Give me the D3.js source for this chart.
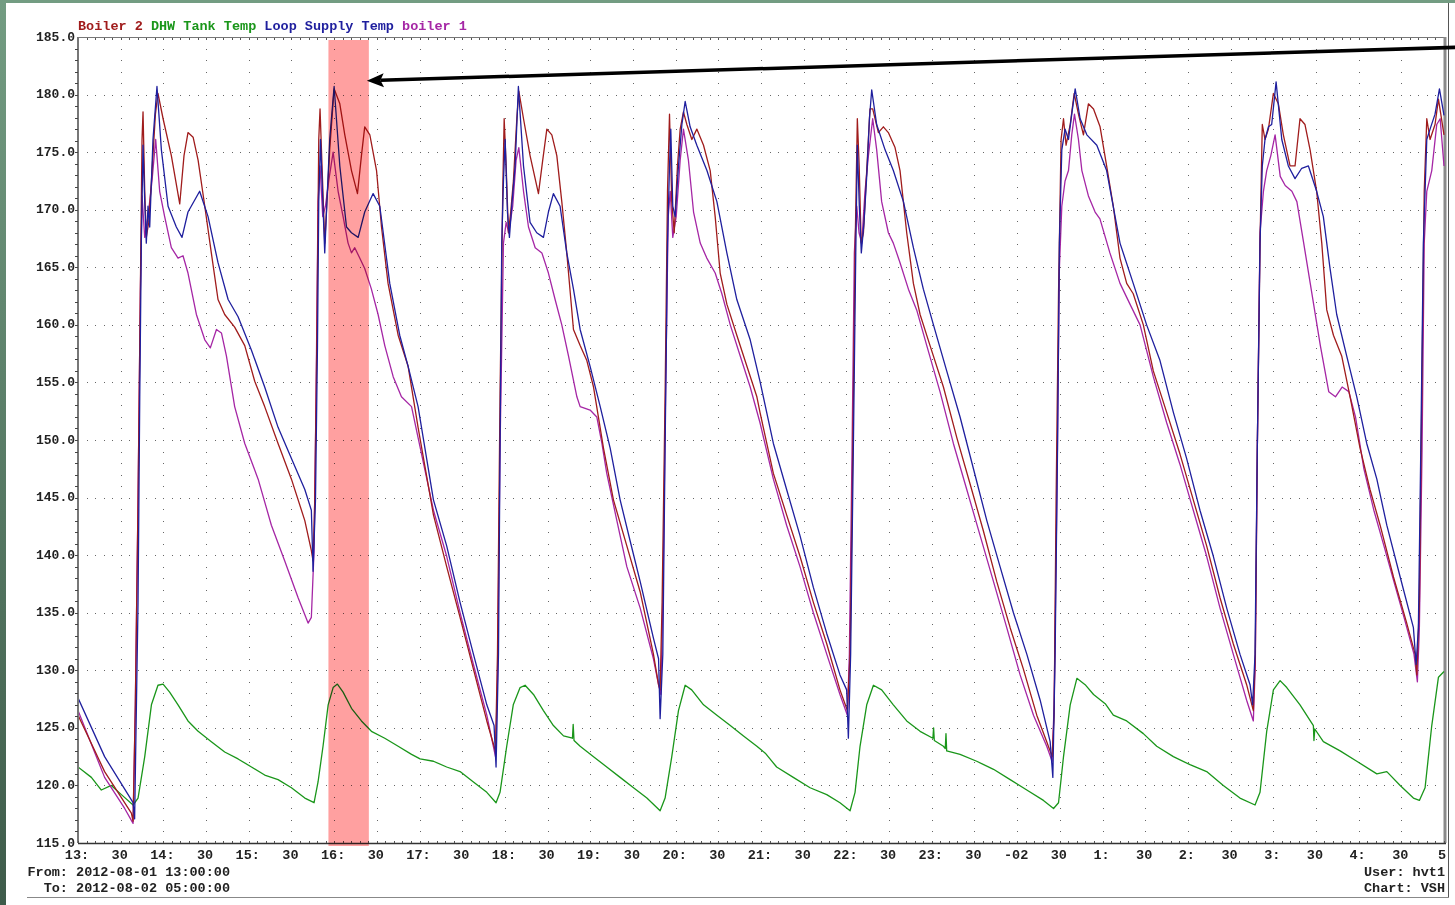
<!DOCTYPE html>
<html><head><meta charset="utf-8">
<script src="https://cdn.jsdelivr.net/npm/d3@7"></script>
<style>
html,body{margin:0;padding:0;background:#fff;}
svg{display:block;}
text{font-family:"Liberation Mono","DejaVu Sans Mono",monospace;font-weight:bold;}
</style></head><body>
<svg id="c" width="1455" height="905"></svg>
<script>
// minutes since 2012-08-01 13:00, temperature (F)
const loopSupply = [[0,127.6],[18.7,122.5],[38.7,118.5],[39.8,117.1],[42.2,135.9],[43.4,153.75],[44.5,167.1],[45.7,175.6],[46.9,170.7],[48,167.1],[49.2,170.3],[50.4,168.5],[52.7,176.1],[55.5,180.7],[58.6,175.2],[63.3,170.3],[69.1,168.5],[73.1,167.6],[77.3,169.8],[85.5,171.6],[91.4,169.4],[98.4,165.4],[105.5,162.2],[112.5,160.7],[121.9,157.8],[131.2,154.6],[140.6,151.1],[150,148.4],[159.4,145.7],[164,143.9],[165.2,138.6],[166.9,144.8],[168.3,158.2],[169.2,170.7],[170.4,176.1],[171.8,171.6],[173.4,166.25],[174.8,170.3],[176.9,176.1],[180,180.7],[184,173.8],[188.7,168.5],[192.2,168],[196.9,167.6],[201.5,169.8],[207.4,171.4],[212.1,170.3],[219.1,163.6],[226.1,159.1],[232,156.4],[239,152.9],[249.8,144.8],[259.1,140.8],[268.5,135.9],[277.9,131.4],[287.3,127],[292.4,125.2],[293.8,121.6],[295.5,131.4],[296.6,149.3],[297.8,167.1],[299,172.5],[300.2,176.1],[301.8,169.8],[303.2,167.6],[304.8,170.3],[307.2,173.8],[309.5,180.7],[313.1,173.8],[317.7,168.9],[322.4,168],[327.1,167.6],[330.6,169.8],[334.1,171.4],[338.8,170.3],[343.5,166.25],[348.2,163.1],[352.9,159.6],[359.9,156.4],[367,152.9],[374,149.3],[381,144.8],[388,141.25],[395.1,137.7],[404.4,132.8],[408,131],[409.1,125.8],[411,131.4],[412.6,149.3],[414.3,167.1],[415.7,173.8],[416.6,177],[418,170.3],[419.7,169.4],[422,173.8],[424.4,177.4],[426.7,179.4],[430.2,177.2],[434.9,175.6],[442,173.4],[449,170.7],[456,166.25],[463,162.2],[472.4,158.7],[479.3,155.1],[488.7,149.7],[498,145.7],[507.4,141.7],[516.8,137.2],[526.2,133.2],[535.5,129.6],[540.2,128.3],[541.4,124.1],[543,131.4],[544.9,149.3],[546.6,166.25],[547.7,175.6],[549.1,170.3],[550.5,166.25],[552.4,168.9],[554.3,172.9],[556.2,177.9],[557.8,180.4],[561.3,177.4],[567.2,175.2],[573,173.4],[580.1,170.7],[587.1,166.7],[594.1,163.1],[601.2,160],[610.5,156],[619.9,152],[629.3,147.5],[638.7,143],[648,139],[657.4,135],[666.8,131.4],[676.2,127.4],[683.2,123.8],[685.1,120.7],[686.7,131.4],[688.4,149.3],[689.7,167.1],[691.4,175.2],[693.7,177],[696.1,176.1],[698.4,178.3],[700.8,180.5],[704.3,177.9],[709,176.5],[716,175.6],[722.9,173.4],[732.3,167.1],[741.6,163.6],[751,160],[760.4,156.9],[769.8,152.4],[779.1,148.4],[788.5,143.9],[797.9,139.9],[807.3,135.4],[816.6,131.4],[823.7,128.75],[825.5,127],[827.2,131.4],[828.8,149.3],[830.7,167.1],[832.3,173.8],[834.2,176.1],[836.6,177.2],[838.9,177.4],[842,181.1],[846,176.1],[850.6,173.8],[855.3,172.7],[860,173.6],[864.7,173.8],[870.5,171.6],[875.2,169.4],[879.9,164.9],[884.6,160.9],[891.6,157.3],[898.7,153.75],[905.7,149.7],[912.8,146.6],[919.8,142.6],[929.2,138.1],[938.5,133.7],[940.4,130.5],[942,133.7],[943.7,149.3],[945.5,167.1],[947.9,176.1],[950.2,177],[953.7,178.3],[956.8,180.5],[960,178.2]];

const boiler2 = [[0,126.1],[18.7,121.2],[37.5,117.6],[38.7,116.9],[40.3,127],[42.2,144.8],[43.8,162.7],[45,176.1],[45.7,178.5],[46.9,171.6],[48,167.6],[49.7,168.9],[51.6,172.5],[54.4,178.3],[56.2,180.1],[59.8,177.9],[65.6,174.7],[71.5,170.5],[74.5,174.7],[77.3,176.7],[80.9,176.3],[84.4,174.3],[89.1,170.3],[93.7,166.25],[98.4,162.2],[103.1,160.9],[110.1,159.8],[117.2,158.2],[124.2,155.1],[131.2,152.9],[140.6,149.7],[150,146.6],[159.4,143],[164,140.4],[165.2,139.5],[166.4,144.8],[167.8,158.2],[169.2,176.1],[170.1,178.75],[171.5,173.8],[173.4,167.1],[174.8,170.3],[176.9,175.2],[180,180.5],[184,179.2],[187.5,176.5],[192.2,173.4],[196.4,171.4],[199.2,174.7],[201.5,177.2],[205.1,176.5],[209.8,173.4],[213.3,168.5],[217.9,163.6],[225,159.1],[232,156.4],[239,151.1],[249.8,143.5],[259.1,139],[268.5,134.6],[277.9,130.1],[287.3,125.6],[292.4,123.4],[293.4,122.9],[294.8,131.4],[296.6,153.75],[298.5,171.6],[299.5,177.9],[300.9,173.8],[302.5,168],[304.1,169.8],[306,172.5],[308.4,177.9],[309.8,180.3],[313.1,177.9],[317.7,174.7],[323.6,171.4],[326.6,174.3],[329.5,177],[333,176.5],[336.5,174.7],[340,170.7],[343.5,166.25],[348.2,159.6],[352.9,158.2],[357.6,156.9],[362.3,154.6],[369.3,149.3],[376.3,144.8],[385.7,140.8],[395.1,136.8],[404.4,131.4],[408,128.75],[409.1,128.3],[410.5,135.9],[412.6,153.75],[414.3,171.6],[415.7,178.3],[417.3,170.7],[419,168],[421.3,173.8],[423.2,177],[425.5,178.5],[427.9,177.4],[431.4,176.1],[434.9,177],[439.6,175.6],[444.3,173.4],[447.8,169.4],[451.3,164.5],[456,161.8],[463,159.1],[470.1,156.4],[477.1,153.75],[479.3,152.4],[488.7,147.1],[498,143.5],[507.4,139.9],[516.8,135.9],[526.2,132.3],[535.5,128.3],[540.7,126.5],[542.6,131.4],[544.5,149.3],[546.2,167.1],[547.7,177.9],[549,173.8],[550.4,167.1],[552,168],[554.3,173.4],[556.6,178.75],[558.5,178.75],[562.5,176.7],[566,177.2],[569.5,176.7],[574.2,175.4],[577.7,173.4],[582.4,168],[587.1,163.6],[591.8,160.9],[598.8,158.2],[608.2,154.6],[617.6,150.2],[626.9,146.2],[636.3,142.1],[645.7,137.7],[655.1,133.7],[664.4,130.1],[673.8,126.1],[680.8,123.8],[684.6,122.5],[686,126.1],[687.4,144.8],[689.1,162.7],[690.9,176.1],[692.6,177.9],[694.4,175.6],[697.3,177.4],[700.1,180.1],[703.1,178.3],[706.6,176.5],[710.1,179.2],[713.7,178.75],[718.3,177.2],[722.9,173.8],[727.6,170.3],[732.3,165.8],[737,163.6],[741.6,162.7],[748.7,160],[755.7,156],[765.1,152.4],[774.4,148.8],[783.8,144.8],[793.2,140.8],[802.6,136.3],[811.9,132.3],[821.3,128.75],[826,126.5],[827.4,131.4],[828.8,149.3],[830.7,167.1],[832.3,177.4],[834.2,176.1],[836.6,177],[840.1,180.1],[843.6,179.2],[847.1,176.5],[851.8,173.8],[855.3,173.8],[858.8,177.9],[862.3,177.4],[865.9,175.2],[870.5,171.6],[874.1,167.1],[877.6,161.3],[882.3,159.1],[888.1,157.3],[894,153.75],[901,149.3],[908,145.7],[915.1,142.6],[924.5,138.1],[933.8,134.1],[939.7,131.4],[940.9,129.6],[942.7,135.9],[944.4,153.75],[946.1,171.6],[947.9,177.9],[950.2,176.1],[953.7,177.4],[956.1,179.6],[960,176.5]];

const boiler1 = [[0,126.5],[18.7,120.7],[32.8,118],[38.7,116.7],[40.3,127],[42.2,144.8],[43.8,162.7],[45,171.2],[46.9,167.6],[49.2,169.4],[52,172.5],[54.6,176.1],[57.4,171.6],[60.9,169.4],[65.6,166.7],[70.3,165.8],[73.8,166],[77.3,164.5],[83.2,160.9],[89.1,158.7],[93,158],[97.3,159.6],[100.8,159.3],[104.3,157.3],[110.1,152.9],[117.2,149.7],[126.6,146.6],[135.9,142.6],[145.3,139.5],[154.7,136.3],[161.7,134.1],[164,134.6],[165.9,140.4],[167.3,153.75],[168.7,170.7],[170.1,173.8],[172,169.4],[173.9,170.3],[176.2,172.5],[179.3,175],[182.8,171.6],[186.3,169.4],[189.8,167.1],[192.2,166.25],[194.5,166.7],[198,165.8],[201.5,164.9],[206.2,163.1],[210.9,160.9],[215.6,158.2],[221.5,155.5],[227.3,153.75],[234.4,152.9],[239,150.2],[249.8,143.9],[259.1,139.9],[268.5,135],[277.9,130.5],[287.3,126.1],[291.9,123.4],[293.4,122.5],[294.8,129.2],[296.6,149.3],[299,167.1],[300.9,168.9],[302.7,168],[305.5,170.3],[307.9,174.3],[309.8,175.4],[313.1,171.6],[316.6,168.5],[321.3,166.7],[326,166.25],[330.6,164.5],[335.3,162.2],[340,160],[344.7,157.3],[350.6,153.75],[352.9,152.9],[359.9,152.6],[364.6,152],[368.2,149.7],[371.6,147.1],[378.7,143],[385.7,139],[395.1,135.4],[404.4,131],[408,128.75],[409.6,127.9],[411,135.9],[412.9,153.75],[414.8,169.4],[416.2,171.6],[418,167.6],[420.4,169.4],[423.2,174.3],[425.5,177],[429,174.3],[432.6,169.8],[437.3,167.1],[441.9,165.8],[447.8,164.5],[452.5,162.7],[458.4,160],[465.4,157.3],[472.4,154.6],[479.3,151.5],[488.7,146.6],[498,142.6],[507.4,139],[516.8,135],[526.2,131.4],[535.5,127.9],[540.7,126.1],[542.1,131.4],[544,149.3],[545.6,166.25],[547.3,170.3],[548.9,168],[550.8,167.1],[553.1,171.6],[555.5,174.7],[558.5,177.9],[561.3,175.2],[564.8,170.7],[569.5,168],[573,167.1],[577.7,165.4],[583.6,163.1],[589.4,161.3],[596.5,158.2],[605.8,154.2],[615.2,149.7],[624.6,145.7],[634,141.7],[643.4,137.7],[652.7,133.7],[662.1,129.6],[671.5,126.1],[680.8,123.4],[684.6,122.1],[686,127],[687.9,144.8],[689.7,164.9],[691.4,170.3],[693.7,172.5],[696.1,173.4],[698.4,176.5],[700.3,178.3],[703.1,176.1],[705.5,173.4],[710.1,171.2],[714.8,169.8],[718.2,169.2],[725.2,166.25],[732.3,163.6],[739.3,161.8],[746.4,160],[755.7,155.5],[765.1,151.5],[774.4,147.9],[783.8,143.9],[793.2,139.9],[802.6,135.4],[811.9,131.4],[821.3,127.4],[826,125.6],[827.4,130.5],[828.8,149.3],[830.7,168],[833.1,171.6],[835.4,173.4],[838.3,174.7],[841.3,176.5],[844.9,172.9],[848.4,172.1],[853.1,171.6],[856.6,170.7],[861.4,167.1],[866,163.6],[873.1,158.2],[879,154.2],[883.7,153.75],[888.4,154.6],[893.1,154.2],[897.8,152],[903.7,147.5],[910.7,143.9],[917.8,140.8],[924.8,137.7],[931.9,134.6],[938.9,131.4],[941.3,129],[942.7,133.7],[944.6,149.3],[946.1,167.1],[947.9,171.6],[951.4,173.4],[954.9,177.4],[957.3,177.9],[960,173.8]];

const dhwTank = [[0,121.6],[9.4,120.7],[16.4,119.6],[23.4,120],[30.5,119.2],[38.7,118.3],[42.2,118.9],[46.9,122.5],[51.6,127],[56.2,128.7],[59.8,128.8],[64.4,128.1],[70.3,127],[77.3,125.6],[84.4,124.7],[93.7,123.8],[103.1,122.9],[112.5,122.3],[121.9,121.6],[131.2,120.9],[140.6,120.5],[150,119.8],[159.4,118.9],[165.9,118.5],[168.7,120.3],[172.2,123.4],[175.8,127],[179.3,128.5],[182.3,128.8],[186.3,128.1],[192.2,126.7],[199.2,125.6],[206.2,124.7],[215.6,124.1],[225,123.4],[234.4,122.7],[240.4,122.3],[249.8,122.1],[259.1,121.6],[268.5,121.2],[277.9,120.3],[287.3,119.4],[293.8,118.5],[296.6,119.4],[301.3,123.4],[305.9,127],[310.7,128.5],[314.2,128.7],[320.1,127.9],[327.1,126.5],[334.1,125.2],[341.2,124.3],[347.5,124.1],[348,125.3],[348.6,123.9],[352.9,123.4],[362.3,122.5],[371.6,121.6],[381,120.7],[390.4,119.8],[399.8,118.9],[409.1,117.8],[412.6,118.9],[417.3,122.5],[422,126.5],[426.7,128.7],[431.3,128.3],[439.6,127],[449,126.1],[458.4,125.2],[467.7,124.3],[477.1,123.4],[483,122.8],[491,121.6],[502.7,120.7],[514.5,119.8],[526.2,119.2],[535.5,118.5],[542.6,117.8],[546.1,119.4],[549.6,123.4],[554.3,127],[559,128.7],[564.8,128.3],[573,127],[582.4,125.6],[591.8,124.7],[600.8,124.1],[601.3,125],[601.8,123.9],[608.2,123.4],[609.5,123.2],[610,124.5],[610.5,123],[619.9,122.7],[631.6,122.1],[643.4,121.4],[655.1,120.5],[666.8,119.6],[678.5,118.7],[685.6,118],[689.1,118.5],[692.6,122.5],[697.3,127],[702,129.3],[707.8,128.75],[713.7,127.9],[721.9,127.1],[727.6,126.1],[737,125.6],[748.7,124.5],[758.1,123.4],[769.8,122.5],[781.5,121.8],[793.2,121.2],[804.9,120],[816.6,118.9],[827.2,118.3],[830.7,119.4],[835.4,124.7],[840.1,128.3],[844.8,129.1],[849.5,128.5],[858.8,127],[868.2,125.2],[868.6,123.9],[869.2,124.9],[875.2,123.8],[887,123],[898.7,122.1],[912.8,121],[919.8,121.2],[929.2,120],[938.5,118.9],[942.7,118.7],[946.7,119.8],[951.4,125.2],[956.1,129.4],[960,129.9]];

const legendNames = ["Boiler 2","DHW Tank Temp","Loop Supply Temp","boiler 1"];
const legendColors = ["#a01c1c","#1a961a","#1f1f9e","#a526a5"];
const yTickValues = [185,180,175,170,165,160,155,150,145,140,135,130,125,120,115];
const xTickLabels = ["13:","30","14:","30","15:","30","16:","30","17:","30","18:","30","19:","30","20:","30","21:","30","22:","30","23:","30","-02","30","1:","30","2:","30","3:","30","4:","30","5"];
const highlightSpan = [176, 204.4];      // minutes
const arrowFrom = [968, 184.1];          // [minute, value]
const arrowTo = [203, 181.2];

const svg = d3.select("#c");
const x = d3.scaleLinear().domain([0,960]).range([78,1444]);
const y = d3.scaleLinear().domain([115,185]).range([843,37]);

// page frame
svg.append("rect").attr("width",1455).attr("height",905).attr("fill","#fff");
const defs = svg.append("defs");
const g1 = defs.append("linearGradient").attr("id","lg").attr("x1",0).attr("y1",0).attr("x2",0).attr("y2",1);
g1.append("stop").attr("offset","0").attr("stop-color","#739c82");
g1.append("stop").attr("offset","1").attr("stop-color","#3e5b4a");
svg.append("rect").attr("x",0).attr("y",0).attr("width",6).attr("height",905).attr("fill","url(#lg)");
svg.append("rect").attr("x",0).attr("y",0).attr("width",1455).attr("height",3).attr("fill","#739c82");
svg.append("line").attr("x1",1448.5).attr("x2",1448.5).attr("y1",3).attr("y2",898).attr("stroke","#555").attr("stroke-width",1);
svg.append("line").attr("x1",27).attr("x2",1449).attr("y1",897.5).attr("y2",897.5).attr("stroke","#888").attr("stroke-width",1);

// grid dots
const grid = svg.append("g").attr("fill","#666");
const hDots = [];
yTickValues.filter(v=>v>115&&v<185).forEach(v=>{ d3.range(6,960,6).forEach(t=>hDots.push([t,v])); });
grid.selectAll("rect.h").data(hDots).join("rect").attr("class","h")
  .attr("x",d=>Math.round(x(d[0]))).attr("y",d=>Math.round(y(d[1]))).attr("width",1).attr("height",1);
const vDots = [];
d3.range(30,960,30).forEach(t=>{ d3.range(116,185,1).forEach(v=>vDots.push([t,v])); });
grid.selectAll("rect.v").data(vDots).join("rect").attr("class","v")
  .attr("x",d=>Math.round(x(d[0]))).attr("y",d=>Math.round(y(d[1]))).attr("width",1).attr("height",1);

// axes / borders
svg.append("line").attr("x1",x(0)).attr("x2",x(960)).attr("y1",y(185)+0.5).attr("y2",y(185)+0.5).attr("stroke","#777");
svg.append("g").attr("fill","#555").selectAll("rect").data(d3.range(0,961,6)).join("rect")
  .attr("x",d=>Math.round(x(d))).attr("y",y(185)+1).attr("width",1).attr("height",2);
svg.append("line").attr("x1",x(0)).attr("x2",x(0)).attr("y1",y(185)).attr("y2",y(115)).attr("stroke","#777").attr("stroke-width",2);
svg.append("g").attr("fill","#444").selectAll("rect").data(d3.range(116,185,1)).join("rect")
  .attr("x",x(0)-3).attr("y",d=>Math.round(y(d))).attr("width",3).attr("height",1);
svg.append("line").attr("x1",x(960)+1).attr("x2",x(960)+1).attr("y1",y(185)).attr("y2",y(115)).attr("stroke","#8a8a8a").attr("stroke-width",3);
svg.append("line").attr("x1",x(0)).attr("x2",x(960)+2).attr("y1",y(115)+0.5).attr("y2",y(115)+0.5).attr("stroke","#333").attr("stroke-width",1.5);
svg.append("g").attr("fill","#555").selectAll("rect").data(d3.range(0,961,6)).join("rect")
  .attr("x",d=>Math.round(x(d))).attr("y",y(115)-2).attr("width",1).attr("height",2);

// y labels
svg.append("g").selectAll("text").data(yTickValues).join("text")
  .attr("x",75).attr("y",d=>y(d)).attr("text-anchor","end").attr("dominant-baseline","central")
  .attr("font-size","13px").attr("fill","#222").text(d=>d.toFixed(1));
// x labels
svg.append("g").selectAll("text").data(xTickLabels).join("text")
  .attr("x",(d,i)=> i===xTickLabels.length-1 ? x(i*30)+2 : x(i*30)-1)
  .attr("y",855).attr("text-anchor",(d,i)=> i===xTickLabels.length-1?"end":"middle").attr("dominant-baseline","central")
  .attr("font-size","13.5px").attr("fill","#222").text(d=>d);

// legend
const lg = svg.append("text").attr("x",78).attr("y",26).attr("dominant-baseline","central").attr("font-size","13.5px");
legendNames.forEach((n,i)=>{ lg.append("tspan").attr("fill",legendColors[i]).text((i?" ":"")+n); });

// footer
svg.append("text").attr("x",230).attr("y",872).attr("text-anchor","end").attr("dominant-baseline","central").attr("font-size","13.5px").attr("fill","#222").text("From: 2012-08-01 13:00:00");
svg.append("text").attr("x",230).attr("y",888).attr("text-anchor","end").attr("dominant-baseline","central").attr("font-size","13.5px").attr("fill","#222").text("To: 2012-08-02 05:00:00");
svg.append("text").attr("x",1445).attr("y",872).attr("text-anchor","end").attr("dominant-baseline","central").attr("font-size","13.5px").attr("fill","#222").text("User: hvt1");
svg.append("text").attr("x",1445).attr("y",888).attr("text-anchor","end").attr("dominant-baseline","central").attr("font-size","13.5px").attr("fill","#222").text("Chart: VSH");

// series
defs.append("clipPath").attr("id","clip").append("rect").attr("x",x(0)+1).attr("y",y(185)).attr("width",x(960)-x(0)).attr("height",y(115)-y(185));
const line = d3.line().x(d=>x(d[0])).y(d=>y(d[1]));
const plot = svg.append("g").attr("clip-path","url(#clip)");
[[dhwTank,legendColors[1]],[boiler1,legendColors[3]],[boiler2,legendColors[0]],[loopSupply,legendColors[2]]].forEach(([data,col])=>{
  plot.append("path").datum(data).attr("d",line).attr("fill","none").attr("stroke",col).attr("stroke-width",1.3).attr("stroke-linejoin","round");
});

// highlight band
svg.append("rect").attr("x",x(highlightSpan[0])).attr("width",x(highlightSpan[1])-x(highlightSpan[0]))
  .attr("y",y(185)+3).attr("height",y(115)-y(185)).attr("fill","#ffa0a0").style("mix-blend-mode","multiply");

// arrow
const [tx,ty] = [x(arrowTo[0]),y(arrowTo[1])];
const [fx,fy] = [x(arrowFrom[0]),y(arrowFrom[1])];
const L = Math.hypot(fx-tx,fy-ty), ux=(fx-tx)/L, uy=(fy-ty)/L;
const hl=17, hw=7;
svg.append("line").attr("x1",fx).attr("y1",fy).attr("x2",tx+ux*hl*0.8).attr("y2",ty+uy*hl*0.8).attr("stroke","#000").attr("stroke-width",3.5);
svg.append("path").attr("d",`M${tx},${ty}L${tx+ux*hl-uy*hw},${ty+uy*hl+ux*hw}L${tx+ux*hl*0.8},${ty+uy*hl*0.8}L${tx+ux*hl+uy*hw},${ty+uy*hl-ux*hw}Z`).attr("fill","#000");
</script>
</body></html>
